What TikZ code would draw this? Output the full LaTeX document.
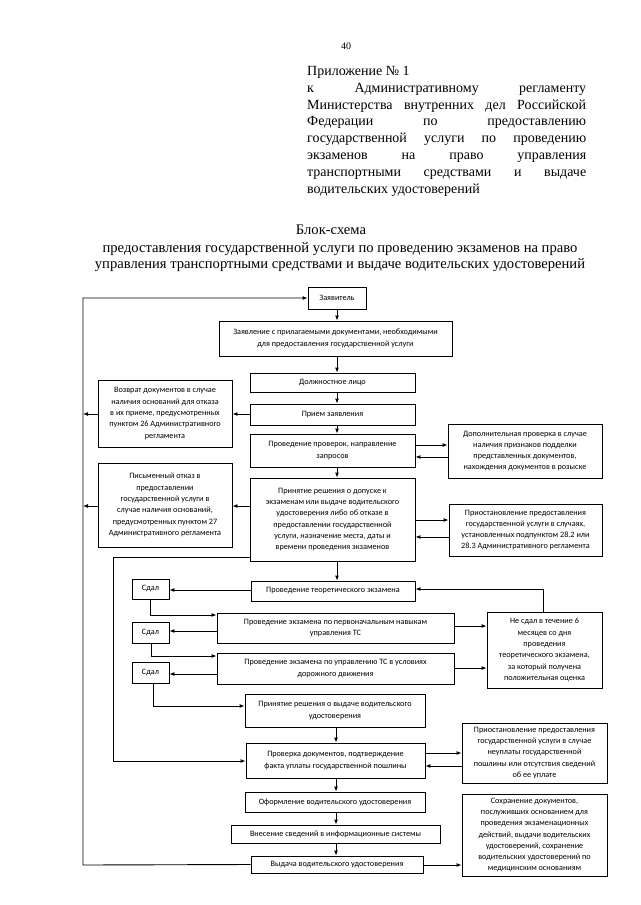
\documentclass[tikz,border=0pt]{standalone}
\usepackage{fontspec}
\setmainfont{Liberation Serif}
\newfontfamily\boxfont{Carlito}
\usetikzlibrary{arrows.meta}
\tikzset{
  box/.style={draw, line width=0.9pt, inner sep=1pt, align=center,
    font={\boxfont\fontsize{8.2}{11.3}\selectfont}},
  arr/.style={-{Latex[length=5pt,width=4pt]}, line width=0.9pt},
  ln/.style={line width=0.9pt},
  hdr/.style={inner sep=0pt, font={\fontsize{14}{16.8}\selectfont}},
  ttl/.style={inner sep=0pt, font={\fontsize{14.6}{16.5}\selectfont}}
}
\newcommand\bx[6]{\node[box, minimum width={(#4-#2)*1pt}, minimum height={(#5-#3)*1pt}] (#1) at ({(#2+#4)/2},{(#3+#5)/2}) {#6};}
\newcommand\jl[1]{\makebox[279pt][s]{#1}}
\begin{document}
\begin{tikzpicture}[x=1pt,y=-1pt]
\fill[white] (0,0) rectangle (640,905);
\useasboundingbox (0,0) rectangle (640,905);
% header
\node[inner sep=0pt, font={\fontsize{10}{12}\selectfont}] (pg) at (346,46) {40};
\node[hdr, anchor=north west, align=left] (app) at (307,66) {Приложение № 1\\
\jl{к Административному регламенту}\\
\jl{Министерства внутренних дел Российской}\\
\jl{Федерации по предоставлению}\\
\jl{государственной услуги по проведению}\\
\jl{экзаменов на право управления}\\
\jl{транспортными средствами и выдаче}\\
водительских удостоверений};
\node[ttl] (t1) at (331,230) {Блок-схема};
\node[ttl, align=center] (t2) at (340,257) {предоставления государственной услуги по проведению экзаменов на право\\управления транспортными средствами и выдаче водительских удостоверений};
% boxes
\bx{zayav}{308}{287}{366}{309}{Заявитель}
\bx{zayavl}{219}{321}{452}{356}{Заявление с прилагаемыми документами, необходимыми\\для предоставления государственной услуги}
\bx{dolzh}{250}{373}{415}{392}{Должностное лицо}
\bx{priem}{250}{404}{415}{425}{Прием заявления}
\bx{vozvrat}{98}{380}{232}{447}{Возврат документов в случае\\наличия оснований для отказа\\в их приеме, предусмотренных\\пунктом 26 Административного\\регламента}
\bx{prov}{250}{434}{415}{467}{Проведение проверок, направление\\запросов}
\bx{dop}{448}{424}{602}{478}{Дополнительная проверка в случае\\наличия признаков подделки\\представленных документов,\\нахождения документов в розыске}
\bx{prin}{250}{478}{415}{561}{Принятие решения о допуске к\\экзаменам или выдаче водительского\\удостоверения либо об отказе в\\предоставлении государственной\\услуги, назначение места, даты и\\времени проведения экзаменов}
\bx{pism}{98}{463}{232}{547}{Письменный отказ в\\предоставлении\\государственной услуги в\\случае наличия оснований,\\предусмотренных пунктом 27\\Административного регламента}
\bx{prios1}{449}{504}{602}{556}{Приостановление предоставления\\государственной услуги в случаях,\\установленных подпунктом 28.2 или\\28.3 Административного регламента}
\bx{teor}{251}{581}{415}{601}{Проведение теоретического экзамена}
\bx{sdal1}{132}{579}{169}{599}{Сдал}
\bx{perv}{217}{613}{454}{643}{Проведение экзамена по первоначальным навыкам\\управления ТС}
\bx{sdal2}{132}{622}{169}{643}{Сдал}
\bx{upr}{217}{653}{454}{684}{Проведение экзамена по управлению ТС в условиях\\дорожного движения}
\bx{sdal3}{132}{662}{169}{683}{Сдал}
\bx{nesdal}{487}{612}{602}{688}{Не сдал в течение 6\\месяцев со дня\\проведения\\теоретического экзамена,\\за который получена\\положительная оценка}
\bx{vydresh}{245}{694}{425}{727}{Принятие решения о выдаче водительского\\удостоверения}
\bx{prover}{246}{743}{425}{778}{Проверка документов, подтверждение\\факта уплаты государственной пошлины}
\bx{prios2}{462}{723}{607}{783}{Приостановление предоставления\\государственной услуги в случае\\неуплаты государственной\\пошлины или отсутствия сведений\\об ее уплате}
\bx{oform}{245}{792}{425}{812}{Оформление водительского удостоверения}
\bx{vnes}{231}{825}{440}{843}{Внесение сведений в информационные системы}
\bx{vydacha}{251}{856}{423}{873}{Выдача водительского удостоверения}
\bx{sohr}{462}{794}{607}{876}{Сохранение документов,\\послуживших основанием для\\проведения экзаменационных\\действий, выдачи водительских\\удостоверений, сохранение\\водительских удостоверений по\\медицинским основаниям}
% main column
\draw[arr] (zayav.south) -- (zayav.south |- zayavl.north);
\draw[arr] (zayavl.south -| zayav.south) -- (dolzh.north -| zayav.south);
\draw[arr] (dolzh.south -| zayav.south) -- (priem.north -| zayav.south);
\draw[arr] (priem.south -| zayav.south) -- (prov.north -| zayav.south);
\draw[arr] (prov.south -| zayav.south) -- (prin.north -| zayav.south);
\draw[arr] (prin.south -| zayav.south) -- (teor.north -| zayav.south);
\draw[arr] (vydresh.south -| 336,0) -- (prover.north -| 336,0);
\draw[arr] (prover.south -| 336,0) -- (oform.north -| 336,0);
\draw[arr] (oform.south -| 336,0) -- (vnes.north -| 336,0);
\draw[arr] (vnes.south -| 336,0) -- (vydacha.north -| 336,0);
% outer feedback line
\draw[arr] (vydacha.west) -- (83,865) -- (83,298) -- (zayav.west);
\draw[arr] (priem.west |- 0,414) -- (vozvrat.east |- 0,414);
\draw[arr] (vozvrat.west |- 0,414) -- (83,414);
\draw[arr] (prin.west |- 0,506) -- (pism.east |- 0,506);
\draw[arr] (pism.west |- 0,506) -- (83,506);
% side checks
\draw[arr] (prov.east |- 0,445) -- (dop.west |- 0,445);
\draw[arr] (dop.west |- 0,457) -- (prov.east |- 0,457);
\draw[arr] (prin.east |- 0,520) -- (prios1.west |- 0,520);
\draw[arr] (prios1.west |- 0,537) -- (prin.east |- 0,537);
\draw[arr] (prover.east |- 0,753) -- (prios2.west |- 0,753);
\draw[arr] (prios2.west |- 0,766) -- (prover.east |- 0,766);
\draw[arr] (vydacha.east |- 0,865) -- (sohr.west |- 0,865);
% inner line
\draw[arr] (prin.west |- 0,557) -- (113,557) -- (113,761) -- (prover.west |- 0,761);
% exams
\draw[arr] (teor.west |- 0,590) -- (sdal1.east |- 0,590);
\draw[arr] (sdal1.south -| 150,0) -- (150,615) -- (perv.west |- 0,615);
\draw[arr] (perv.west |- 0,631) -- (sdal2.east |- 0,631);
\draw[arr] (sdal2.south -| 151,0) -- (151,656) -- (upr.west |- 0,656);
\draw[arr] (upr.west |- 0,674) -- (sdal3.east |- 0,674);
\draw[arr] (sdal3.south -| 153,0) -- (153,706) -- (vydresh.west |- 0,706);
\draw[arr] (perv.east |- 0,626) -- (nesdal.west |- 0,626);
\draw[arr] (upr.east |- 0,668) -- (nesdal.west |- 0,668);
\draw[arr] (nesdal.north -| 543,0) -- (543,589) -- (teor.east |- 0,589);
\end{tikzpicture}
\end{document}
